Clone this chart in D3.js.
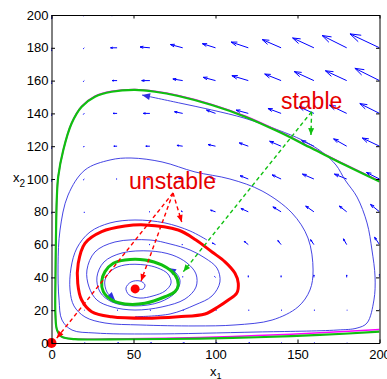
<!DOCTYPE html>
<html>
<head>
<meta charset="utf-8">
<script src="https://cdn.jsdelivr.net/npm/d3@7"></script>
<style>
  body { margin: 0; background: #fff; }
  svg { display: block; font-family: "Liberation Sans", Arial, sans-serif; }
</style>
</head>
<body>
<div id="chart"></div>
<script>
// direction field grid (rows from x2 = 200 down to 0)
const gridX1 = [0, 20, 40, 60, 80, 100, 120, 140, 160, 180, 200];
const gridX2 = [200, 180, 160, 140, 120, 100, 80, 60, 40, 20, 0];
const fieldU = [
  [0, -0.5, -4.5, -7, -8.5, -9, -11.5, -12.5, -14, -16, -19],
  [0, -0.5, -4, -6, -7.5, -8, -10.5, -11.5, -13, -15, -18],
  [0, -0.5, -3, -5, -6, -7.5, -10, -10, -12, -13, -15],
  [0, -0.5, -2.5, -4, -5, -5.5, -7.5, -8, -9, -10.5, -12],
  [0, -0.5, -2, -2.5, -3.5, -4.5, -5.5, -7, -7.5, -8, -10.5],
  [0, -0.5, -0.5, -1.5, -2.5, -3.5, -5, -5.5, -7, -7.5, -8],
  [0, 0, 0, -0.5, -1, -3, -4.5, -5, -5, -4.5, -5.5],
  [0, 0, 0, -0.5, -0.5, -2, -2.5, -2, -2, -2, -3],
  [0, 0, 0, 0, 0, -0.5, 0, 0, 0, 0, 0],
  [0, 0.3, 0.5, 0.5, 0.5, 0.5, 0.5, 0.5, 0.5, 0.3, 0],
  [0, 0.5, 1, 1, 1, 1, 1, 0.5, 0.5, 0.3, 0]
];
const fieldV = [
  [-2.5, -0.5, 0, 1, 2.5, 3, 4.5, 6, 7, 8.5, 10],
  [-2, -0.5, 0, 0.5, 2, 2.5, 3.5, 5, 6, 7.5, 8.5],
  [-2, -0.5, 0, 0, 1, 2, 3, 4, 5.5, 6, 7.5],
  [-1.5, -0.5, 0, 0, 1, 2, 2, 3, 4, 5, 6],
  [-1.5, -0.5, 0, 0, 0.5, 1, 2, 3, 3.5, 4.5, 5],
  [-1.5, -0.5, 0, 0, 0.5, 1, 2, 2.5, 3, 3, 4],
  [-1, -0.5, 0, 0, 0.5, 1, 2, 3, 3.5, 3.5, 4.5],
  [-1, -0.5, 0, 0, 0, 1, 2, 2.5, 3, 3.5, 4.5],
  [-0.5, 0, 0, 0, 0.5, 0.5, 1, 1, 1.5, 1.5, 2],
  [-0.5, 0, 0, 0, 0, 0, 0, 0, 0, 0, 0.5],
  [0, 0, 0, 0, 0, 0, 0, 0, 0, 0, 0]
];

// big stable orbit (green) and the magenta one under it
const bigX1 = [200, 179, 158.7, 138.3, 118, 97.7, 77.3, 63.1, 50.9, 36.7, 26.5, 18.4, 12.3, 7.2, 4.1, 3.2, 2.7, 2.4, 2.4, 3.4, 6.4, 14.3, 46, 90.5, 125.3, 163.7, 200];
const bigX2 = [98.4, 108.5, 118.7, 128.9, 138, 145.1, 150.6, 153.2, 154.3, 153.2, 150.2, 144.1, 134, 117.7, 101.4, 87.2, 62.8, 38.4, 17.1, 7.9, 3.7, 2.4, 2.3, 2.7, 3.5, 4.9, 6.9];
const magX1 = [200, 179, 158.7, 138.3, 118, 97.7, 77.3, 63.1, 50.9, 36.7, 26.5, 18.4, 12.3, 7.2, 4.1, 3.2, 2.7, 2.4, 2.4, 3.4, 6.4, 14.3, 46, 90.5, 125.3, 163.7, 200];
const magX2 = [98.8, 108.9, 119.1, 129.3, 138.4, 145.5, 150.9, 153.5, 154.6, 153.5, 150.5, 144.3, 134.2, 117.7, 101.4, 87.2, 62.8, 38.4, 17.1, 7.9, 3.7, 2.5, 2.6, 3.4, 4.5, 6.2, 8.3];

// unstable limit cycle (red)
const redX1 = [88.1, 97.9, 105.8, 111.9, 113.9, 112.9, 107.8, 101.7, 93.6, 77.3, 57.0, 36.7, 24.5, 18.4, 16.0, 16.3, 20.4, 30.6, 44.8, 57.0, 77.3];
const redX2 = [62.8, 55.5, 49.5, 42.5, 36.4, 30.3, 26.2, 22.1, 17.7, 16.0, 15.1, 16.0, 19.1, 26.2, 36.4, 48.6, 60.8, 67.9, 71.3, 72.0, 68.9];

// small stable limit cycle (green)
const smallX1 = [44.8, 57.0, 67.2, 75.3, 77.3, 75.3, 69.2, 57.0, 44.8, 36.7, 31.6, 30.6, 32.6, 37.7];
const smallX2 = [50.6, 50.6, 47.6, 41.5, 35.4, 31.3, 28.2, 24.2, 23.8, 26.2, 31.3, 37.4, 43.5, 48.6];

// trajectory leaving the red cycle outward
const outX1 = [94.8, 84.5, 69.2, 50.9, 35.7, 23.5, 15.5, 11.9, 11.3, 13.7, 20.4, 32.6, 54.0, 87.5, 111.9, 134.5, 150.3, 157.6, 159.5, 156.4, 146.6, 128.4, 108.8, 87.5, 67.4, 48.5, 35.7, 20.4, 10.1, 5.2, 4.0, 4.6, 6.4, 12.5, 26.5, 60.1, 125.3, 174.1, 186.3, 192.4, 196.6, 197.3, 195.4, 192.4, 186.3, 179.0, 173.5, 164.9, 152.7, 138.1, 118.0, 97.7, 77.3, 55.2];
const outX2 = [62.8, 68.3, 73.2, 75.0, 73.2, 67.7, 57.9, 45.7, 32.3, 22.6, 15.9, 12.2, 11.0, 10.4, 11.0, 14.0, 22.0, 32.3, 44.5, 64.0, 79.3, 92.7, 100.0, 104.3, 110.4, 112.8, 111.6, 105.5, 90.2, 68.9, 47.6, 26.2, 14.0, 7.9, 6.1, 5.5, 6.7, 7.9, 9.1, 12.2, 26.2, 40.2, 56.7, 73.2, 89.0, 99.4, 108.5, 116.5, 123.8, 129.9, 137.0, 142.1, 146.5, 151.2];

// trajectory leaving the red cycle inward
const inX1 = [50.9, 72.3, 87.5, 97.9, 102.7, 100.9, 93.6, 84.5, 72.3, 60.1, 38.7, 26.5, 21.6, 22.9, 27.7, 36.9, 50.9, 67.4, 81.4, 88.1, 88.1, 82.6, 73.5, 60.1, 43.0, 32.0, 27.7, 29.6, 36.9, 50.9, 66.2, 75.9, 78.4, 75.9, 71.0];
const inX2 = [16.0, 17.7, 23.2, 28.7, 37.2, 45.7, 51.8, 56.7, 60.4, 62.8, 61.6, 55.5, 44.5, 34.1, 26.2, 22.0, 20.1, 22.0, 26.8, 34.1, 42.1, 48.8, 53.7, 56.1, 54.9, 49.4, 40.2, 31.1, 25.0, 22.6, 25.0, 31.1, 37.8, 42.7, 45.7];

// trajectory leaving the equilibrium
const eqX1 = [52.1, 55.8, 57.0, 54.0, 48.5, 45.4, 47.3, 54.0, 61.9, 69.2, 72.9, 71.0, 64.9, 57.0, 44.8, 36.9, 32.6, 33.8, 38.7];
const eqX2 = [32.9, 32.9, 35.4, 37.8, 37.2, 33.5, 29.3, 27.4, 28.7, 31.7, 36.6, 42.1, 45.7, 47.6, 47.6, 44.5, 38.4, 31.1, 26.2];

const equilibria = [[0, 0], [51, 33]];

// annotation arrows [from, to]
const unstableArrows = [[[74.1, 91.5], [3.2, 3.0]], [[74.1, 91.5], [54.6, 37.8]], [[74.1, 91.5], [79.4, 73.8]]];
const stableArrows = [[[158.6, 141], [158.2, 126.8]], [[158.6, 141], [80.4, 43.5]]];
const labels = [{text: "unstable", at: [47.3, 94.2]}, {text: "stable", at: [139.9, 142.7]}];

const xTicks = [0, 50, 100, 150, 200];
const yTicks = [0, 20, 40, 60, 80, 100, 120, 140, 160, 180, 200];

const width = 387, height = 379;
const svg = d3.select("#chart").append("svg").attr("width", width).attr("height", height);

const x = d3.scaleLinear().domain([0, 200]).range([51.5, 379.5]);
const y = d3.scaleLinear().domain([0, 200]).range([343, 15]);

svg.append("clipPath").attr("id", "plot")
  .append("rect").attr("x", 51.5).attr("y", 15).attr("width", 328).attr("height", 328);

const plot = svg.append("g").attr("clip-path", "url(#plot)");

// quiver
const quiver = [];
gridX2.forEach((v2, i) => gridX1.forEach((v1, j) => {
  quiver.push({ x1: v1, x2: v2, u: fieldU[i][j], v: fieldV[i][j] });
}));
const qa = 0.33, qb = 0.33;
plot.append("g").selectAll("path").data(quiver).enter().append("path")
  .attr("fill", "none").attr("stroke", "#0000ff").attr("stroke-width", 1)
  .attr("d", d => {
    const x0 = x(d.x1), y0 = y(d.x2);
    const tx = x(d.x1 + d.u), ty = y(d.x2 + d.v);
    const dx = tx - x0, dy = ty - y0;
    return "M" + x0 + "," + y0 + "L" + tx + "," + ty +
      "M" + (tx - qa * (dx + qb * dy)) + "," + (ty - qa * (dy - qb * dx)) +
      "L" + tx + "," + ty +
      "L" + (tx - qa * (dx - qb * dy)) + "," + (ty - qa * (dy + qb * dx));
  });

const zip = (a, b) => a.map((v, i) => [v, b[i]]);
const line = d3.line().x(d => x(d[0])).y(d => y(d[1])).curve(d3.curveCatmullRom);
const loop = d3.line().x(d => x(d[0])).y(d => y(d[1])).curve(d3.curveCatmullRomClosed);

function endHead(g, pts, color, len, half) {
  const a = pts[pts.length - 2], b = pts[pts.length - 1];
  const ax = x(a[0]), ay = y(a[1]), bx = x(b[0]), by = y(b[1]);
  const ang = Math.atan2(by - ay, bx - ax);
  const c = Math.cos(ang), s = Math.sin(ang);
  const p1 = [bx - len * c - half * s, by - len * s + half * c];
  const p2 = [bx - len * c + half * s, by - len * s - half * c];
  g.append("path").attr("fill", color).attr("stroke", "none")
    .attr("d", "M" + bx + "," + by + "L" + p1 + "L" + p2 + "Z");
}

// blue trajectories
const trajBlue = "#3030e0";
[zip(outX1, outX2), zip(inX1, inX2), zip(eqX1, eqX2)].forEach(pts => {
  plot.append("path").attr("d", line(pts)).attr("fill", "none")
    .attr("stroke", trajBlue).attr("stroke-width", 0.9);
  endHead(plot, pts, trajBlue, 8, 3.5);
});

// big stable orbit
plot.append("path").attr("d", line(zip(magX1, magX2))).attr("fill", "none")
  .attr("stroke", "#ff00ff").attr("stroke-width", 1.5);
plot.append("path").attr("d", line(zip(bigX1, bigX2))).attr("fill", "none")
  .attr("stroke", "#10c010").attr("stroke-width", 2.2);

// limit cycles
plot.append("path").attr("d", loop(zip(redX1, redX2))).attr("fill", "none")
  .attr("stroke", "#ff0000").attr("stroke-width", 3);
plot.append("path").attr("d", loop(zip(smallX1, smallX2))).attr("fill", "none")
  .attr("stroke", "#10c010").attr("stroke-width", 3);

// annotation arrows
function dashed(list, color) {
  list.forEach(([p, q]) => {
    svg.append("line").attr("x1", x(p[0])).attr("y1", y(p[1])).attr("x2", x(q[0])).attr("y2", y(q[1]))
      .attr("stroke", color).attr("stroke-width", 1.4).attr("stroke-dasharray", "4,3");
    endHead(svg, [p, q], color, 7, 3);
  });
}
dashed(unstableArrows, "#ff0000");
dashed(stableArrows, "#10c010");

// equilibria
svg.append("g").selectAll("circle").data(equilibria).enter().append("circle")
  .attr("cx", d => x(d[0])).attr("cy", d => y(d[1]))
  .attr("r", (d, i) => i === 0 ? 5 : 4.5).attr("fill", "#ff0000");

// axes
const axisG = svg.append("g");
axisG.append("g").attr("transform", "translate(0," + y(0) + ")")
  .call(d3.axisBottom(x).tickValues(xTicks).tickSize(-3.5).tickSizeOuter(0).tickPadding(7));
axisG.append("g").attr("transform", "translate(0," + y(200) + ")")
  .call(d3.axisTop(x).tickValues(xTicks).tickSize(-3.5).tickSizeOuter(0).tickFormat(""));
axisG.append("g").attr("transform", "translate(" + x(0) + ",0)")
  .call(d3.axisLeft(y).tickValues(yTicks).tickSize(-3.5).tickSizeOuter(0).tickPadding(3));
axisG.append("g").attr("transform", "translate(" + x(200) + ",0)")
  .call(d3.axisRight(y).tickValues(yTicks).tickSize(-3.5).tickSizeOuter(0).tickFormat(""));
axisG.selectAll("g").attr("font-size", null).attr("font-family", null);
axisG.selectAll("text").attr("fill", "#000").style("font-size", "13px");
axisG.selectAll(".domain, line").attr("stroke", "#000");

// axis labels
const xl = svg.append("text").attr("x", 210).attr("y", 376).style("font-size", "13px");
xl.append("tspan").text("x");
xl.append("tspan").attr("dy", 2.5).style("font-size", "9px").text("1");
const yl = svg.append("text").attr("x", 13).attr("y", 182).style("font-size", "13px");
yl.append("tspan").text("x");
yl.append("tspan").attr("dy", 5).style("font-size", "10px").text("2");

// labels
svg.selectAll(".lab").data(labels).enter().append("text")
  .attr("x", d => x(d.at[0])).attr("y", d => y(d.at[1]))
  .attr("fill", "#e60000").style("font-size", "23px").text(d => d.text);
</script>
</body>
</html>
